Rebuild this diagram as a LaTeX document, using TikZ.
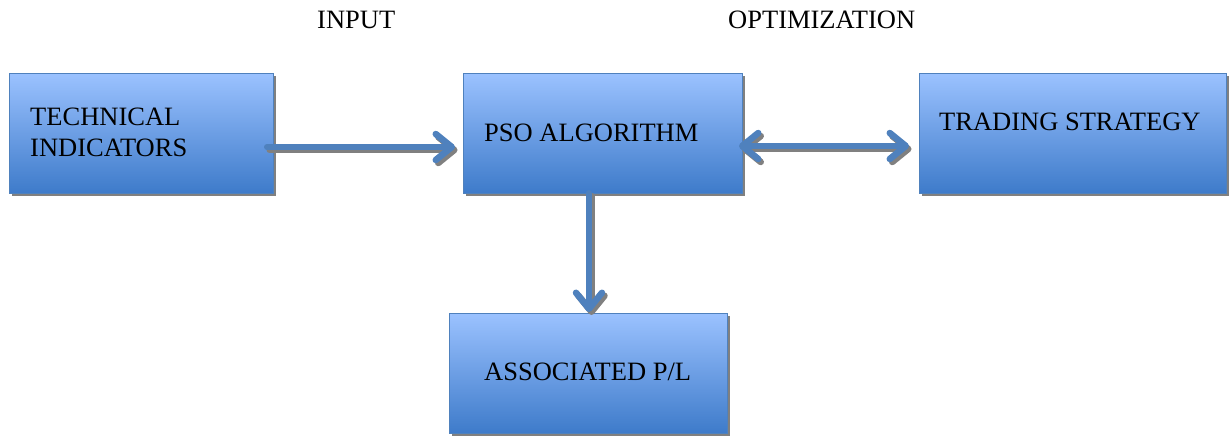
\documentclass[tikz,border=0pt]{standalone}
\usepackage{fontspec}
\setmainfont{Liberation Serif}
\usetikzlibrary{arrows.meta,shadows}
\definecolor{boxtop}{RGB}{155,194,255}
\definecolor{boxbot}{RGB}{62,123,202}
\definecolor{edgeblue}{RGB}{79,129,189}
\definecolor{arrblue}{RGB}{79,129,189}
\definecolor{shadgray}{RGB}{128,128,128}
\tikzset{
  box/.style={rectangle, draw=edgeblue, line width=0.8pt, top color=boxtop, bottom color=boxbot,
    inner sep=0pt, outer sep=0pt,
    general shadow={fill=shadgray, shadow xshift=3pt, shadow yshift=-3pt}},
  lbl/.style={anchor=base west, inner sep=0pt, font=\fontsize{26.5}{30}\selectfont},
  flow/.style={line width=6pt, line cap=round, line join=round},
  tipend/.style={-{Straight Barb[length=16pt,width=26pt,line width=6.5pt,line cap=round,line join=round]}},
  tipboth/.style={{Straight Barb[length=16pt,width=26pt,line width=6.5pt,line cap=round,line join=round]}-{Straight Barb[length=16pt,width=26pt,line width=6.5pt,line cap=round,line join=round]}},
  flowshadow/.style={flow, draw=shadgray, transform canvas={shift={(2.5pt,-3pt)}}},
  flowmain/.style={flow, draw=arrblue}
}
\begin{document}
\begin{tikzpicture}[x=1pt,y=-1pt]
\useasboundingbox (0,0) rectangle (1230,436);
% boxes
\node[box, minimum width=264pt, minimum height=120pt] (tech) at (141,133) {};
\node[box, minimum width=279pt, minimum height=120pt] (pso) at (602.5,133) {};
\node[box, minimum width=307pt, minimum height=120pt] (trade) at (1072.5,133) {};
\node[box, minimum width=278pt, minimum height=120pt] (assoc) at (588,373) {};
% labels
\node[lbl] (hin) at (317,29) {INPUT};
\node[lbl] (hopt) at (728,29) {OPTIMIZATION};
\node[lbl] (t1) at (30,125) {TECHNICAL};
\node[lbl] (t2) at (30,156) {INDICATORS};
\node[lbl] (t3) at (484,141) {PSO ALGORITHM};
\node[lbl] (t4) at (939,130) {TRADING STRATEGY};
\node[lbl] (t5) at (484,380) {ASSOCIATED P/L};
% connector coordinates
\coordinate (a1s) at ([shift={(-6,14)}]tech.east);
\coordinate (a1e) at ([shift={(-8,14)}]pso.west);
\coordinate (a2s) at ([shift={(-3,13)}]pso.east);
\coordinate (a2e) at ([shift={(-10,13)}]trade.west);
\coordinate (a3s) at ([xshift=-13.5pt]pso.south);
\coordinate (a3e) at ([shift={(1,-1)}]assoc.north);
% shadows of connectors
\draw[flowshadow, tipend] (a1s) -- (a1e);
\draw[flowshadow, tipboth] (a2s) -- (a2e);
\draw[flowshadow, tipend] (a3s) -- (a3e);
% connectors
\draw[flowmain, tipend] (a1s) -- (a1e);
\draw[flowmain, tipboth] (a2s) -- (a2e);
\draw[flowmain, tipend] (a3s) -- (a3e);
\end{tikzpicture}
\end{document}
